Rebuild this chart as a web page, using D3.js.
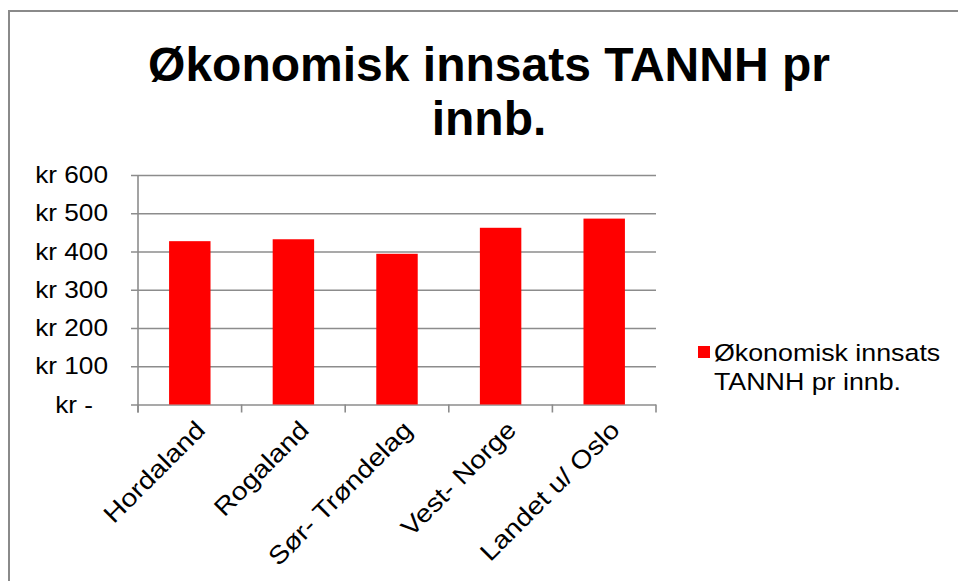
<!DOCTYPE html>
<html>
<head>
<meta charset="utf-8">
<script src="https://cdn.jsdelivr.net/npm/d3@7"></script>
<style>
  body { margin: 0; background: #fff; }
  svg { font-family: "Liberation Sans", Arial, sans-serif; }
</style>
</head>
<body>
<svg id="chart" width="958" height="581"></svg>
<script>
// data
const regions = ["Hordaland", "Rogaland", "Sør- Trøndelag", "Vest- Norge", "Landet u/ Oslo"];
const amounts = [427, 432, 394, 462, 486];
const yTickValues = [0, 100, 200, 300, 400, 500, 600];
const titleLines = ["Økonomisk innsats TANNH pr", "innb."];
const legendLines = ["Økonomisk innsats", "TANNH pr innb."];

const svg = d3.select("#chart");
const gridColor = "#8c8c8c";
const textStretch = 1.14;   // labels in the original are a bit wide

// outer frame
svg.append("rect")
  .attr("x", 9).attr("y", 11)
  .attr("width", 960).attr("height", 600)
  .attr("fill", "none")
  .attr("stroke", "#8a8a8a")
  .attr("stroke-width", 2);

// title
svg.append("g").selectAll("text")
  .data(titleLines)
  .enter().append("text")
  .attr("x", 489)
  .attr("y", (d, i) => 81 + i * 54)
  .attr("text-anchor", "middle")
  .style("font-size", "48px")
  .style("font-weight", "bold")
  .text(d => d);

let margin = {left: 138, right: 656, top: 175, bottom: 404.5};

let x = d3.scaleBand()
  .domain(regions)
  .range([margin.left, margin.right])
  .paddingInner(0.6)
  .paddingOuter(0.3);

let y = d3.scaleLinear()
  .domain([0, 600])
  .range([margin.bottom, margin.top]);

// gridlines
let yAxis = svg.append("g")
  .attr("transform", "translate(" + margin.left + ",0)")
  .call(d3.axisLeft(y)
    .tickValues(yTickValues)
    .tickSize(-(margin.right - margin.left))
    .tickSizeOuter(0)
    .tickFormat(""));

yAxis.select(".domain").remove();
yAxis.selectAll(".tick line")
  .attr("x1", -7)
  .attr("stroke", gridColor)
  .attr("stroke-width", 1.6);

// y tick labels (drawn by hand so they can be stretched)
svg.append("g").selectAll("text")
  .data(yTickValues)
  .enter().append("text")
  .attr("transform", d => "translate(" + (d === 0 ? 93 : 108) + "," + (y(d) + 8) + ") scale(" + textStretch + ",1)")
  .attr("text-anchor", "end")
  .style("font-size", "23px")
  .text(d => d === 0 ? "kr -" : "kr " + d);

// bars
svg.append("g").selectAll("rect")
  .data(amounts)
  .enter().append("rect")
  .attr("x", (d, i) => x(regions[i]))
  .attr("y", d => y(d))
  .attr("width", x.bandwidth())
  .attr("height", d => y(0) - y(d))
  .attr("fill", "#ff0000");

// vertical axis line
svg.append("line")
  .attr("x1", margin.left).attr("x2", margin.left)
  .attr("y1", margin.top).attr("y2", margin.bottom + 8)
  .attr("stroke", gridColor)
  .attr("stroke-width", 1.6);

// x axis ticks between categories
let xTickPos = d3.range(regions.length + 1).map(i => margin.left + i * x.step());
svg.append("g").selectAll("line")
  .data(xTickPos)
  .enter().append("line")
  .attr("x1", d => d).attr("x2", d => d)
  .attr("y1", margin.bottom).attr("y2", margin.bottom + 8)
  .attr("stroke", gridColor)
  .attr("stroke-width", 1.6);

// x labels, rotated
svg.append("g").selectAll("text")
  .data(regions)
  .enter().append("text")
  .attr("transform", d => "translate(" + (x(d) + x.bandwidth() / 2 + 17) + "," + (margin.bottom + 27) + ") rotate(-45) scale(" + textStretch + ",1)")
  .attr("text-anchor", "end")
  .style("font-size", "25px")
  .text(d => d);

// legend
let legend = svg.append("g");
legend.append("rect")
  .attr("x", 698).attr("y", 346)
  .attr("width", 12).attr("height", 12)
  .attr("fill", "#ff0000");
legend.selectAll("text")
  .data(legendLines)
  .enter().append("text")
  .attr("transform", (d, i) => "translate(714," + (361 + i * 29) + ") scale(" + textStretch + ",1)")
  .style("font-size", "23.5px")
  .text(d => d);
</script>
</body>
</html>
